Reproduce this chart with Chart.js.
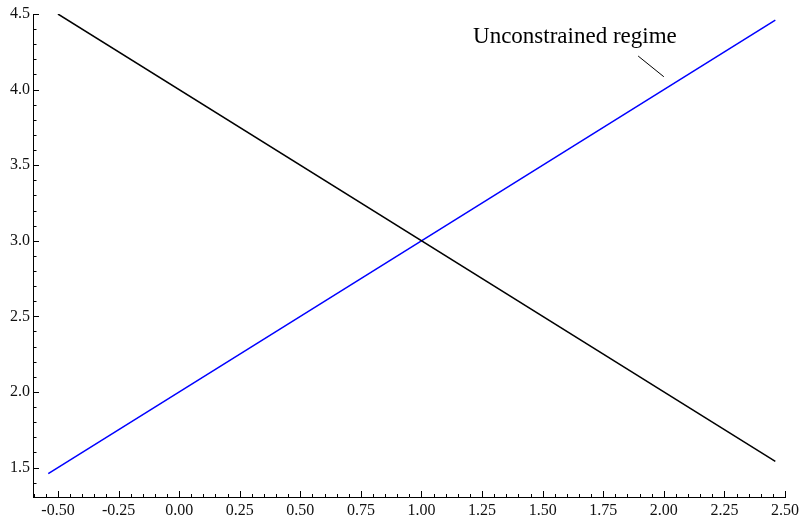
<!DOCTYPE html>
<html>
<head>
<meta charset="utf-8">
<script src="https://cdn.jsdelivr.net/npm/chart.js@4/dist/chart.umd.min.js"></script>
<style>
  html, body { margin: 0; padding: 0; background: #fff; }
  #wrap { width: 803px; height: 516px; }
</style>
</head>
<body>
<div id="wrap"><canvas id="chart" width="803" height="516"></canvas></div>
<script>
// values
const xTicks = [-0.5, -0.25, 0, 0.25, 0.5, 0.75, 1, 1.25, 1.5, 1.75, 2, 2.25, 2.5];
const yTicks = [1.5, 2.0, 2.5, 3.0, 3.5, 4.0, 4.5];
const blackX = [-0.5, 2.46];
const blackY = [4.5, 1.54];
const blueX = [-0.54, 2.46];
const blueY = [1.46, 4.46];
const noteText = 'Unconstrained regime';
const notePos = [1.633, 4.31];
const noteLine = [[1.894, 4.222], [2.0, 4.085]];

const serif = '"Liberation Serif", "DejaVu Serif", serif';

function pts(xs, ys) {
    return xs.map((x, i) => ({ x: x, y: ys[i] }));
}

// inward major/minor ticks, plus the callout
const decor = {
    id: 'decor',
    afterDraw(chart) {
        const ctx = chart.ctx;
        const xs = chart.scales.x, ys = chart.scales.y;
        const area = chart.chartArea;
        ctx.save();
        ctx.strokeStyle = '#000';
        ctx.lineWidth = 1;
        ctx.beginPath();
        // x ticks: minor every 0.05
        for (let i = Math.ceil(xs.min / 0.05 - 1e-6); i * 0.05 <= xs.max + 1e-6; i++) {
            const v = i * 0.05;
            const major = Math.abs(v / 0.25 - Math.round(v / 0.25)) < 1e-6;
            const px = Math.round(xs.getPixelForValue(v)) + 0.5;
            ctx.moveTo(px, area.bottom);
            ctx.lineTo(px, area.bottom - (major ? 6 : 3));
        }
        // y ticks: minor every 0.1
        for (let i = Math.ceil(ys.min / 0.1 - 1e-6); i * 0.1 <= ys.max + 1e-6; i++) {
            const v = i * 0.1;
            const major = Math.abs(v / 0.5 - Math.round(v / 0.5)) < 1e-6;
            const py = Math.round(ys.getPixelForValue(v)) + 0.5;
            ctx.moveTo(area.left, py);
            ctx.lineTo(area.left + (major ? 6 : 3.5), py);
        }
        ctx.stroke();

        // callout
        ctx.beginPath();
        ctx.moveTo(xs.getPixelForValue(noteLine[0][0]), ys.getPixelForValue(noteLine[0][1]));
        ctx.lineTo(xs.getPixelForValue(noteLine[1][0]), ys.getPixelForValue(noteLine[1][1]));
        ctx.stroke();
        ctx.fillStyle = '#000';
        ctx.font = '23px ' + serif;
        ctx.textAlign = 'center';
        ctx.textBaseline = 'alphabetic';
        ctx.fillText(noteText, xs.getPixelForValue(notePos[0]), ys.getPixelForValue(notePos[1]));
        ctx.restore();
    }
};

new Chart(document.getElementById('chart'), {
    type: 'scatter',
    data: {
        datasets: [
            {
                data: pts(blackX, blackY),
                showLine: true,
                borderColor: '#000',
                borderWidth: 1.5,
                pointRadius: 0
            },
            {
                data: pts(blueX, blueY),
                showLine: true,
                borderColor: '#0000ff',
                borderWidth: 1.5,
                pointRadius: 0
            }
        ]
    },
    options: {
        responsive: false,
        animation: false,
        layout: { padding: { top: 14, right: 18, left: 0, bottom: 0 } },
        plugins: { legend: { display: false }, tooltip: { enabled: false } },
        scales: {
            x: {
                type: 'linear',
                min: -0.603,
                max: 2.5,
                afterBuildTicks: s => { s.ticks = xTicks.map(v => ({ value: v })); },
                afterFit: s => { s.height = 19; },
                grid: { display: false, drawTicks: false },
                border: { display: true, color: '#000', width: 1 },
                ticks: {
                    autoSkip: false,
                    maxRotation: 0,
                    padding: 4,
                    color: '#111',
                    font: { family: serif, size: 16 },
                    callback: v => v.toFixed(2)
                }
            },
            y: {
                type: 'linear',
                min: 1.305,
                max: 4.5,
                afterBuildTicks: s => { s.ticks = yTicks.map(v => ({ value: v })); },
                afterFit: s => { s.width = 33; },
                grid: { display: false, drawTicks: false },
                border: { display: true, color: '#000', width: 1 },
                ticks: {
                    autoSkip: false,
                    padding: 3,
                    color: '#111',
                    font: { family: serif, size: 16 },
                    callback: v => v.toFixed(1)
                }
            }
        }
    },
    plugins: [decor]
});
</script>
</body>
</html>
